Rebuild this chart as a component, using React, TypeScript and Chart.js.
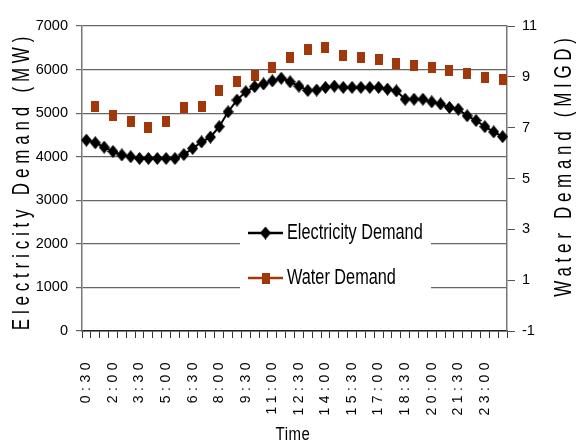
import { useEffect, useRef } from 'react';
import { Chart, registerables } from 'chart.js';

Chart.register(...registerables);

const TIMES = [
  '0:30', '1:00', '1:30', '2:00', '2:30', '3:00', '3:30', '4:00', '4:30', '5:00', '5:30', '6:00',
  '6:30', '7:00', '7:30', '8:00', '8:30', '9:00', '9:30', '10:00', '10:30', '11:00', '11:30', '12:00',
  '12:30', '13:00', '13:30', '14:00', '14:30', '15:00', '15:30', '16:00', '16:30', '17:00', '17:30', '18:00',
  '18:30', '19:00', '19:30', '20:00', '20:30', '21:00', '21:30', '22:00', '22:30', '23:00', '23:30', '24:00',
];

const SHOWN_TIME_LABELS = [
  '0:30', '2:00', '3:30', '5:00', '6:30', '8:00', '9:30', '11:00',
  '12:30', '14:00', '15:30', '17:00', '18:30', '20:00', '21:30', '23:00',
];

const ELECTRICITY_MW = [
  4380, 4320, 4220, 4120, 4040, 4000, 3960, 3960, 3960, 3960, 3960, 4050,
  4190, 4340, 4450, 4690, 5030, 5300, 5490, 5610, 5670, 5740, 5800, 5720,
  5620, 5520, 5530, 5590, 5620, 5590, 5590, 5590, 5590, 5590, 5550, 5510,
  5320, 5320, 5320, 5260, 5210, 5130, 5090, 4940, 4830, 4690, 4570, 4460,
];

const WATER_TIMES = [
  '1:00', '2:00', '3:00', '4:00', '5:00', '6:00', '7:00', '8:00', '9:00', '10:00', '11:00', '12:00',
  '13:00', '14:00', '15:00', '16:00', '17:00', '18:00', '19:00', '20:00', '21:00', '22:00', '23:00', '24:00',
];

const WATER_MIGD = [
  7.82, 7.46, 7.23, 7.01, 7.23, 7.78, 7.82, 8.45, 8.83, 9.07, 9.37, 9.75,
  10.06, 10.15, 9.83, 9.75, 9.69, 9.53, 9.44, 9.36, 9.23, 9.14, 8.98, 8.91,
];

const LEFT_MIN = 0;
const LEFT_MAX = 7000;
const LEFT_STEP = 1000;
const RIGHT_MIN = -1;
const RIGHT_MAX = 11;
const RIGHT_STEP = 2;

const ELEC_LABEL = 'Electricity Demand';
const WATER_LABEL = 'Water Demand';
const X_TITLE = 'Time';
const Y_TITLE = 'Electricity Demand (MW)';
const Y1_TITLE = 'Water Demand (MIGD)';

const FONT = "'Liberation Sans', Arial, sans-serif";
const WATER_COLOR = '#A0380C';
const GRID_COLOR = '#666666';

function makeDiamond(w: number, h: number, color: string) {
  const c = document.createElement('canvas');
  c.width = w;
  c.height = h;
  const g = c.getContext('2d')!;
  g.fillStyle = color;
  g.beginPath();
  g.moveTo(w / 2, 0);
  g.lineTo(w, h / 2);
  g.lineTo(w / 2, h);
  g.lineTo(0, h / 2);
  g.closePath();
  g.fill();
  return c;
}

function makeRect(w: number, h: number, color: string) {
  const c = document.createElement('canvas');
  c.width = w;
  c.height = h;
  const g = c.getContext('2d')!;
  g.fillStyle = color;
  g.fillRect(0, 0, w, h);
  return c;
}

// draws text stretched vertically (in the text's own frame) to mimic the tall condensed font
function tallText(
  ctx: CanvasRenderingContext2D,
  text: string,
  x: number,
  y: number,
  rot: number,
  size: number,
  stretch: number,
  spacing: number,
  align: CanvasTextAlign,
) {
  ctx.save();
  ctx.translate(x, y);
  if (rot) ctx.rotate(rot);
  ctx.scale(1, stretch);
  ctx.font = `${size}px ${FONT}`;
  ctx.letterSpacing = `${spacing}px`;
  ctx.textAlign = align;
  ctx.textBaseline = 'middle';
  ctx.fillStyle = '#000';
  ctx.fillText(text, 0, 0);
  ctx.restore();
}

export default function App() {
  const ref = useRef<HTMLCanvasElement | null>(null);

  useEffect(() => {
    if (!ref.current) return;
    const diamond = makeDiamond(11, 13, '#000000');
    const rect = makeRect(8, 11, WATER_COLOR);

    const decor = {
      id: 'decor',
      afterDatasetsDraw(chart: any) {
        chart.ctx.letterSpacing = '4.5px';
      },
      afterDraw(chart: any) {
        const ctx = chart.ctx as CanvasRenderingContext2D;
        ctx.letterSpacing = '0px';
        const a = chart.chartArea;

        // axis titles
        tallText(ctx, Y_TITLE, a.left - 60, 181, -Math.PI / 2, 17, 1.4, 4.8, 'center');
        tallText(ctx, Y1_TITLE, a.right + 57, 165, -Math.PI / 2, 17, 1.4, 4.7, 'center');
        tallText(ctx, X_TITLE, 293, 435, 0, 15, 1.25, 0.5, 'center');

        // legend box
        ctx.save();
        ctx.fillStyle = '#ffffff';
        ctx.fillRect(240, 207, 191, 92);
        const items = [
          { label: ELEC_LABEL, color: '#000000', img: diamond, y: 233 },
          { label: WATER_LABEL, color: WATER_COLOR, img: rect, y: 278 },
        ];
        for (const it of items) {
          ctx.strokeStyle = it.color;
          ctx.lineWidth = 2.5;
          ctx.beginPath();
          ctx.moveTo(248, it.y);
          ctx.lineTo(283, it.y);
          ctx.stroke();
          ctx.drawImage(it.img, 265.5 - it.img.width / 2, it.y - it.img.height / 2);
          tallText(ctx, it.label, 287, it.y, 0, 16.3, 1.4, 0, 'left');
        }
        ctx.restore();
      },
    };

    const chart = new Chart(ref.current, {
      type: 'line',
      data: {
        labels: TIMES,
        datasets: [
          {
            label: ELEC_LABEL,
            data: ELECTRICITY_MW,
            yAxisID: 'y',
            borderColor: '#000000',
            backgroundColor: '#000000',
            borderWidth: 2,
            pointStyle: diamond as any,
            pointRadius: 6,
            tension: 0,
          },
          {
            label: WATER_LABEL,
            data: WATER_TIMES.map((t, i) => ({ x: t, y: WATER_MIGD[i] })),
            yAxisID: 'y1',
            showLine: false,
            borderColor: WATER_COLOR,
            backgroundColor: WATER_COLOR,
            pointStyle: rect as any,
            pointRadius: 6,
          },
        ],
      },
      options: {
        animation: false,
        responsive: true,
        maintainAspectRatio: false,
        layout: { padding: { top: 26, left: 0, right: 0, bottom: 0 } },
        plugins: {
          legend: { display: false },
          tooltip: { enabled: false },
        },
        scales: {
          x: {
            type: 'category',
            offset: true,
            afterFit(scale: any) {
              scale.height = 115;
            },
            grid: {
              offset: true,
              drawOnChartArea: false,
              drawTicks: true,
              tickLength: 7,
              color: '#333333',
            },
            border: { color: '#222222', width: 1.5 },
            ticks: {
              z: 1,
              autoSkip: false,
              minRotation: 90,
              maxRotation: 90,
              padding: 20,
              color: '#000000',
              font: { family: FONT, size: 14 },
              callback(this: any, _v: any, idx: number) {
                const lab = TIMES[idx];
                return SHOWN_TIME_LABELS.includes(lab) ? lab : '';
              },
            },
          },
          y: {
            position: 'left',
            min: LEFT_MIN,
            max: LEFT_MAX,
            afterFit(scale: any) {
              scale.width = 82;
            },
            grid: { color: GRID_COLOR, lineWidth: 1.2, tickLength: 6 },
            border: { color: '#777777', width: 1.5 },
            ticks: {
              stepSize: LEFT_STEP,
              padding: 8,
              color: '#000000',
              font: { family: FONT, size: 14.5 },
              callback: (v: any) => String(v),
            },
          },
          y1: {
            position: 'right',
            min: RIGHT_MIN,
            max: RIGHT_MAX,
            afterFit(scale: any) {
              scale.width = 70;
            },
            grid: { drawOnChartArea: false, color: '#555555', tickLength: 8 },
            border: { color: '#777777', width: 1.5 },
            ticks: {
              stepSize: RIGHT_STEP,
              padding: 7,
              color: '#000000',
              font: { family: FONT, size: 14.5 },
              callback: (v: any) => String(v),
            },
          },
        },
      },
      plugins: [decor],
    });

    return () => chart.destroy();
  }, []);

  return (
    <div style={{ position: 'fixed', left: 0, top: 0, width: 577, height: 446, background: '#fff' }}>
      <canvas ref={ref} />
    </div>
  );
}
